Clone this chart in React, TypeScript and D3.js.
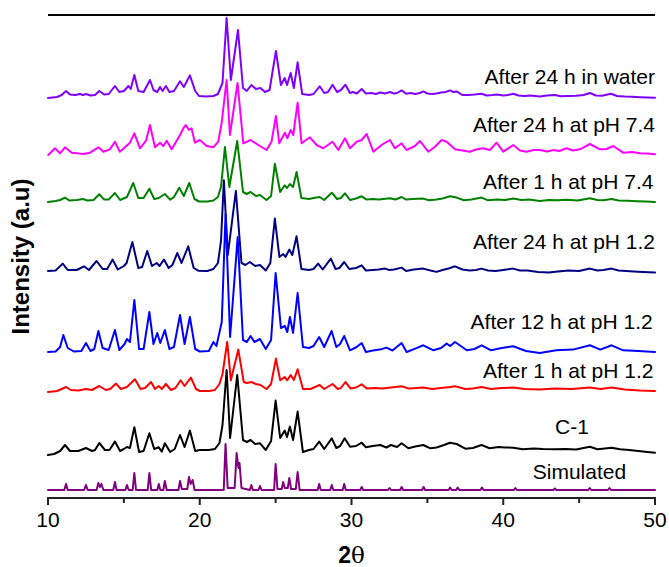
import React from "react";
import * as d3 from "d3";

// PXRD patterns, [2θ (deg), intensity (counts above the trace's own baseline)]
const waterSeries: [number, number][] = [
  [10.0, 0], [10.3, 5], [10.6, 10], [10.9, 30], [11.19, 70], [11.45, 35], [11.8, 30], [12.1, 40], [12.3, 30], [12.5, 40],
  [12.8, 25], [13.1, 30], [13.38, 70], [13.7, 35], [14.0, 40], [14.41, 120], [14.7, 60], [15.0, 70], [15.3, 120], [15.45, 90],
  [15.69, 230], [15.95, 70], [16.3, 60], [16.72, 180], [16.95, 80], [17.2, 60], [17.38, 110], [17.55, 70], [17.77, 120], [18.0, 60],
  [18.3, 70], [18.7, 167], [18.95, 110], [19.35, 226], [19.7, 70], [19.95, 20], [20.4, 15], [20.9, 20], [21.2, 40], [21.5, 150],
  [21.77, 800], [22.05, 180], [22.52, 680], [22.85, 100], [23.1, 70], [23.4, 130], [23.7, 90], [24.0, 100], [24.3, 60], [24.6, 80],
  [25.02, 470], [25.35, 130], [25.6, 200], [25.75, 130], [25.99, 250], [26.2, 100], [26.45, 357], [26.75, 40], [27.2, 30], [27.5, 40],
  [27.9, 117], [28.2, 50], [28.45, 60], [28.75, 133], [29.05, 60], [29.3, 80], [29.6, 133], [29.9, 50], [30.1, 60], [30.35, 45],
  [30.67, 90], [30.95, 45], [31.3, 50], [31.6, 40], [31.9, 55], [32.2, 45], [32.53, 60], [32.8, 45], [33.0, 50], [33.3, 76],
  [33.6, 43], [33.9, 50], [34.2, 40], [34.5, 50], [34.73, 66], [35.0, 45], [35.3, 40], [35.6, 45], [35.9, 55], [36.2, 60],
  [36.49, 76], [36.7, 60], [36.93, 66], [37.3, 30], [37.7, 30], [38.1, 35], [38.57, 43], [38.9, 25], [39.3, 30], [39.6, 35],
  [40.0, 25], [40.3, 30], [40.66, 43], [41.0, 25], [41.4, 20], [41.8, 25], [42.4, 16], [42.9, 25], [43.4, 30], [43.8, 18],
  [44.3, 20], [44.8, 22], [45.3, 30], [45.71, 50], [46.1, 25], [46.5, 22], [47.1, 43], [47.5, 20], [48.0, 15], [48.5, 12],
  [49.0, 8], [49.5, 5], [50.0, 3],
];

const ph74Day: [number, number][] = [
  [10.02, 0], [10.46, 67], [10.79, 17], [11.12, 77], [11.56, 23], [11.9, 17], [12.33, 10], [12.77, 23], [13.32, 77], [13.65, 33],
  [14.08, 56], [14.41, 133], [14.74, 33], [15.07, 77], [15.4, 123], [15.69, 217], [16.06, 67], [16.46, 143], [16.72, 300], [17.05, 77],
  [17.38, 123], [17.6, 90], [17.82, 143], [18.15, 57], [18.7, 200], [18.92, 267], [19.07, 300], [19.29, 250], [19.46, 267], [19.68, 123],
  [20.01, 150], [20.45, 90], [20.89, 77], [21.22, 133], [21.44, 317], [21.77, 750], [21.99, 200], [22.49, 720], [22.87, 117], [23.35, 150],
  [23.86, 100], [24.4, 50], [24.73, 133], [25.02, 390], [25.24, 117], [25.61, 223], [25.77, 167], [25.99, 250], [26.16, 200], [26.45, 523],
  [26.71, 117], [27.26, 177], [27.7, 100], [28.14, 67], [28.75, 133], [29.13, 50], [29.57, 167], [29.9, 67], [30.34, 133], [30.67, 150],
  [31.0, 210], [31.44, 33], [31.98, 100], [32.53, 150], [32.86, 67], [33.3, 117], [33.63, 50], [34.18, 90], [34.51, 140], [35.06, 33],
  [35.5, 83], [35.94, 150], [36.27, 133], [36.82, 57], [37.3, 45], [37.8, 33], [38.2, 55], [38.68, 67], [39.12, 50], [39.56, 123],
  [40.0, 33], [40.66, 100], [41.1, 45], [41.54, 33], [42.0, 50], [42.42, 50], [42.9, 35], [43.3, 50], [43.7, 40], [44.17, 67],
  [44.6, 45], [45.05, 57], [45.71, 110], [46.37, 57], [46.8, 60], [47.25, 90], [47.9, 23], [48.5, 30], [49.0, 17], [49.5, 15],
  [50.0, 7],
];

const ph74Hour: [number, number][] = [
  [10.0, 0], [10.5, 10], [10.8, 20], [11.12, 44], [11.4, 15], [11.9, 20], [12.3, 30], [12.6, 15], [13.0, 20], [13.38, 77],
  [13.7, 24], [14.0, 24], [14.41, 90], [14.75, 20], [15.2, 50], [15.62, 190], [15.95, 40], [16.3, 40], [16.68, 133], [17.0, 30],
  [17.3, 40], [17.7, 80], [18.05, 24], [18.3, 50], [18.65, 143], [18.95, 60], [19.31, 190], [19.65, 30], [19.95, 5], [20.5, 5],
  [20.9, 15], [21.2, 50], [21.4, 150], [21.66, 550], [21.95, 150], [22.47, 610], [22.85, 100], [23.1, 80], [23.35, 100], [23.7, 60],
  [23.97, 70], [24.4, 20], [24.7, 60], [24.95, 383], [25.3, 100], [25.6, 167], [25.75, 140], [25.94, 180], [26.15, 150], [26.38, 300],
  [26.7, 40], [27.2, 30], [27.5, 40], [27.9, 50], [28.2, 20], [28.7, 93], [29.05, 30], [29.3, 40], [29.57, 87], [29.9, 20],
  [30.3, 35], [30.67, 57], [31.0, 24], [31.4, 30], [31.8, 25], [32.53, 37], [32.9, 25], [33.3, 50], [33.6, 24], [34.0, 30],
  [34.73, 34], [35.1, 17], [35.6, 25], [36.0, 35], [36.49, 57], [36.93, 44], [37.4, 17], [37.9, 25], [38.57, 44], [39.0, 17],
  [39.6, 25], [40.1, 20], [40.66, 34], [41.2, 20], [41.7, 25], [42.4, 10], [43.0, 20], [43.6, 17], [44.2, 22], [44.9, 15],
  [45.71, 37], [46.2, 20], [46.6, 17], [47.14, 30], [47.6, 15], [48.2, 12], [48.8, 8], [49.4, 5], [50.0, 0],
];

const ph12Day: [number, number][] = [
  [10.0, 0], [10.5, 5], [10.97, 74], [11.3, 10], [11.9, 10], [12.37, 47], [12.7, 10], [13.2, 100], [13.6, 20], [13.9, 20],
  [14.26, 114], [14.6, 15], [15.0, 50], [15.18, 80], [15.56, 290], [15.95, 30], [16.2, 40], [16.54, 200], [16.85, 50], [17.16, 80],
  [17.35, 50], [17.64, 114], [17.95, 30], [18.2, 60], [18.52, 180], [18.8, 80], [19.24, 247], [19.6, 30], [19.9, 3], [20.5, 0],
  [20.9, 20], [21.2, 80], [21.4, 300], [21.59, 907], [21.85, 160], [22.38, 800], [22.75, 80], [23.0, 60], [23.3, 90], [23.65, 50],
  [23.97, 60], [24.35, 5], [24.65, 80], [24.95, 524], [25.25, 140], [25.5, 170], [25.65, 140], [25.9, 214], [26.1, 160], [26.38, 347],
  [26.7, 20], [27.2, 10], [27.5, 20], [27.8, 74], [28.1, 15], [28.64, 124], [28.95, 20], [29.2, 30], [29.52, 90], [29.85, 20],
  [30.3, 30], [30.67, 57], [30.95, 5], [31.4, 10], [31.8, 14], [32.2, 24], [32.5, 10], [32.8, 15], [33.3, 34], [33.6, 0],
  [34.1, 15], [34.73, 24], [35.2, 5], [35.6, -9], [36.0, 10], [36.4, 25], [36.82, 47], [37.3, 15], [37.8, 5], [38.2, 10],
  [38.57, 24], [39.0, 5], [39.5, 0], [40.0, 10], [40.66, 24], [41.1, 5], [41.6, 5], [42.3, -10], [43.0, -16], [43.6, -5],
  [44.3, 5], [45.0, 0], [45.71, 24], [46.2, 5], [46.6, 10], [47.14, 24], [47.6, 5], [48.1, 0], [48.6, -5], [49.2, -10],
  [50.0, -16],
];

const ph12HalfDay: [number, number][] = [
  [10.0, 0], [10.5, 5], [10.8, 50], [11.01, 170], [11.3, 40], [11.7, 5], [12.2, 10], [12.5, 90], [12.8, 10], [13.05, 30],
  [13.32, 210], [13.6, 40], [14.0, 20], [14.41, 220], [14.7, 20], [15.05, 80], [15.2, 130], [15.4, 100], [15.69, 520], [16.0, 30],
  [16.3, 30], [16.68, 400], [16.95, 80], [17.2, 190], [17.4, 90], [17.7, 220], [18.0, 30], [18.3, 50], [18.7, 370], [19.0, 80],
  [19.35, 350], [19.7, 30], [20.0, 5], [20.6, 10], [20.9, 100], [21.1, 60], [21.45, 300], [21.7, 1380], [22.0, 150], [22.5, 1150],
  [22.85, 120], [23.1, 100], [23.35, 160], [23.6, 100], [23.97, 130], [24.35, 30], [24.7, 120], [25.0, 790], [25.35, 240], [25.61, 260],
  [25.77, 200], [25.94, 350], [26.15, 190], [26.45, 590], [26.8, 50], [27.2, 40], [27.5, 60], [27.87, 150], [28.2, 50], [28.69, 210],
  [29.0, 50], [29.25, 80], [29.52, 160], [29.9, 17], [30.34, 50], [30.67, 90], [30.95, 0], [31.4, 15], [31.87, 24], [32.3, 44],
  [32.7, 15], [33.3, 90], [33.63, 0], [34.2, 34], [34.73, 67], [35.4, 17], [35.9, 40], [36.27, 84], [36.5, 60], [36.82, 100],
  [37.6, 17], [38.1, 30], [38.57, 67], [39.2, 17], [39.9, 40], [40.66, 57], [41.5, 10], [42.4, -10], [43.5, 17], [44.6, 24],
  [45.71, 67], [46.4, 24], [47.14, 67], [47.9, 17], [48.9, 10], [50.0, 0],
];

const ph12Hour: [number, number][] = [
  [10.0, 0], [10.6, 10], [11.19, 50], [11.5, 20], [12.0, 15], [12.5, 30], [12.9, 20], [13.38, 60], [13.8, 20], [14.1, 30],
  [14.48, 84], [14.8, 30], [15.2, 50], [15.73, 127], [16.1, 30], [16.4, 40], [16.79, 100], [17.05, 30], [17.3, 60], [17.5, 30],
  [17.77, 80], [18.1, 20], [18.4, 40], [18.74, 117], [19.0, 60], [19.42, 144], [19.75, 30], [20.0, 10], [20.6, 10], [21.0, 20],
  [21.3, 80], [21.5, 180], [21.81, 500], [22.05, 117], [22.54, 424], [22.9, 100], [23.1, 90], [23.4, 100], [23.7, 80], [24.0, 70],
  [24.4, 30], [24.7, 80], [25.02, 334], [25.3, 117], [25.6, 150], [25.77, 117], [25.99, 170], [26.2, 120], [26.45, 227], [26.8, 30],
  [27.3, 30], [27.9, 70], [28.2, 30], [28.75, 80], [29.1, 30], [29.3, 40], [29.6, 100], [29.95, 34], [30.3, 45], [30.67, 77],
  [31.0, 34], [31.5, 40], [32.0, 35], [32.6, 45], [33.3, 57], [33.8, 34], [34.3, 40], [34.73, 44], [35.3, 30], [35.9, 40],
  [36.5, 50], [36.82, 57], [37.5, 30], [38.0, 35], [38.57, 50], [39.2, 30], [39.9, 40], [40.66, 44], [41.4, 30], [42.4, 24],
  [43.4, 35], [44.5, 30], [45.71, 44], [46.4, 30], [47.14, 44], [48.0, 25], [49.0, 15], [50.0, 10],
];

const c1Series: [number, number][] = [
  [10.0, 0], [10.4, 10], [10.8, 40], [11.12, 100], [11.45, 40], [12.0, 40], [12.5, 70], [12.9, 40], [13.1, 50], [13.38, 120],
  [13.75, 50], [14.05, 50], [14.41, 134], [14.75, 40], [15.0, 60], [15.2, 80], [15.4, 70], [15.69, 277], [16.0, 30], [16.3, 40],
  [16.68, 217], [17.0, 60], [17.3, 77], [17.5, 34], [17.7, 117], [18.05, 30], [18.35, 60], [18.7, 200], [19.0, 80], [19.35, 244],
  [19.7, 40], [20.0, 50], [20.6, 50], [21.0, 60], [21.3, 120], [21.5, 300], [21.77, 850], [22.0, 170], [22.47, 800], [22.85, 150],
  [23.1, 130], [23.35, 150], [23.65, 110], [23.97, 117], [24.35, 50], [24.7, 140], [25.0, 544], [25.3, 170], [25.6, 244], [25.75, 180],
  [25.94, 284], [26.15, 150], [26.45, 434], [26.8, 30], [27.2, 50], [27.5, 60], [27.87, 134], [28.2, 60], [28.7, 167], [29.0, 70],
  [29.25, 90], [29.55, 167], [29.9, 83], [30.3, 90], [30.67, 123], [30.95, 77], [31.4, 90], [31.9, 100], [32.3, 75], [32.6, 100],
  [33.0, 80], [33.3, 117], [33.75, 67], [34.2, 85], [34.73, 100], [35.2, 67], [35.6, 75], [36.1, 100], [36.49, 123], [36.93, 110],
  [37.5, 63], [38.0, 70], [38.57, 100], [39.1, 67], [39.7, 80], [40.1, 75], [40.66, 73], [41.3, 57], [42.0, 65], [42.6, 60],
  [43.4, 57], [44.1, 60], [44.8, 55], [45.71, 83], [46.2, 57], [46.7, 65], [47.14, 73], [47.7, 57], [48.3, 50], [48.9, 40],
  [49.5, 30], [50.0, 23],
];

const simulatedSeries: [number, number][] = [
  [10.0, 0], [11.07, 0], [11.19, 60], [11.3, 0], [12.38, 0], [12.5, 50], [12.62, 0], [13.2, 0], [13.32, 70], [13.42, 30],
  [13.52, 60], [13.65, 0], [14.3, 0], [14.41, 80], [14.52, 0], [15.1, 0], [15.2, 50], [15.32, 0], [15.58, 0], [15.69, 170],
  [15.8, 0], [16.57, 0], [16.68, 170], [16.8, 0], [17.2, 0], [17.3, 60], [17.4, 0], [17.6, 0], [17.7, 90], [17.82, 0],
  [18.6, 0], [18.7, 90], [18.82, 10], [19.18, 10], [19.29, 130], [19.4, 60], [19.53, 100], [19.66, 0], [21.58, 0], [21.7, 460],
  [21.84, 20], [22.3, 20], [22.43, 370], [22.55, 220], [22.62, 270], [22.75, 20], [23.3, 0], [23.4, 50], [23.5, 0], [23.87, 0],
  [23.97, 40], [24.07, 0], [24.9, 0], [25.0, 260], [25.12, 10], [25.4, 10], [25.5, 80], [25.6, 20], [25.8, 20], [25.9, 120],
  [26.02, 10], [26.33, 10], [26.45, 180], [26.58, 0], [27.77, 0], [27.87, 60], [27.97, 0], [28.6, 0], [28.7, 50], [28.8, 0],
  [29.42, 0], [29.52, 60], [29.62, 0], [30.57, 0], [30.67, 30], [30.77, 0], [32.4, 0], [32.5, 20], [32.6, 0], [33.2, 0],
  [33.3, 30], [33.4, 0], [34.65, 0], [34.75, 30], [34.85, 0], [36.4, 0], [36.5, 25], [36.6, 0], [36.9, 0], [37.0, 25],
  [37.1, 0], [38.5, 0], [38.6, 25], [38.7, 0], [40.7, 0], [40.8, 20], [40.9, 0], [43.3, 0], [43.4, 15], [43.5, 0],
  [45.6, 0], [45.7, 20], [45.8, 0], [46.9, 0], [47.0, 20], [47.1, 0], [50.0, 0],
];

// Traces drawn top to bottom, each lifted by a stacking offset (counts)
const seriesNames = [
  "After 24 h in water",
  "After 24 h at pH 7.4",
  "After 1 h at pH 7.4",
  "After 24 h at pH 1.2",
  "After 12 h at pH 1.2",
  "After 1 h at pH 1.2",
  "C-1",
  "Simulated",
];
const seriesData = [waterSeries, ph74Day, ph74Hour, ph12Day, ph12HalfDay, ph12Hour, c1Series, simulatedSeries];
const seriesOffsets = [4000, 3430, 2960, 2270, 1460, 1060, 430, 80];

const xTicks = [10, 20, 30, 40, 50];
const xMinorTicks = [15, 25, 35, 45];

// Presentation
const seriesColors = ["#8000FF", "#FF00FF", "#008000", "#000080", "#0000FF", "#FF0000", "#000000", "#800080"];
const labelTheta = [50, 50, 49.9, 50, 49.85, 49.9, 44.53, 48.1];
const labelAnchor = ["end", "end", "end", "end", "end", "end", "middle", "end"];
const labelLift = [140, 230, 134, 224, 234, 144, 210, 107];

const W = 669;
const H = 567;
const FONT = "'Liberation Sans', Arial, Helvetica, sans-serif";

export default function App() {
  const x = d3.scaleLinear().domain([10, 50]).range([48, 655]);
  const y = d3.scaleLinear().domain([0, 4830]).range([498, 15]);

  return (
    <svg
      width={W}
      height={H}
      viewBox={`0 0 ${W} ${H}`}
      style={{ position: "absolute", left: 0, top: 0, background: "#fff" }}
      fontFamily={FONT}
    >
      <rect x={0} y={0} width={W} height={H} fill="#fff" />

      {seriesData.map((pts, i) => {
        const line = d3
          .line<[number, number]>()
          .x((d) => x(d[0]))
          .y((d) => y(d[1] + seriesOffsets[i]));
        return (
          <path
            key={seriesNames[i]}
            d={line(pts) ?? ""}
            fill="none"
            stroke={seriesColors[i]}
            strokeWidth={2}
            strokeLinejoin="round"
            strokeLinecap="round"
          />
        );
      })}

      {seriesNames.map((name, i) => (
        <text
          key={name}
          x={x(labelTheta[i])}
          y={y(seriesOffsets[i] + labelLift[i])}
          textAnchor={labelAnchor[i] as any}
          fontSize={21}
          fill="#000"
        >
          {name}
        </text>
      ))}

      {/* top frame line */}
      <line x1={x(10)} x2={x(50)} y1={y(4830)} y2={y(4830)} stroke="#000" strokeWidth={2.2} />

      {/* bottom axis */}
      <line x1={x(10) - 1} x2={x(50) + 1} y1={y(0)} y2={y(0)} stroke="#222" strokeWidth={2} />
      {xTicks.map((t) => (
        <g key={`t${t}`}>
          <line x1={x(t)} x2={x(t)} y1={y(0)} y2={y(0) + 7} stroke="#222" strokeWidth={2} />
          <text x={x(t)} y={527} textAnchor="middle" fontSize={21} fill="#000">
            {t}
          </text>
        </g>
      ))}
      {xMinorTicks.map((t) => (
        <line key={`m${t}`} x1={x(t)} x2={x(t)} y1={y(0)} y2={y(0) + 5} stroke="#222" strokeWidth={2} />
      ))}

      <text x={(x(10) + x(50)) / 2} y={563} textAnchor="middle" fontSize={23} fill="#000">
        <tspan fontWeight="bold">2</tspan>
        <tspan fontFamily="'DejaVu Serif', 'Liberation Serif', serif">θ</tspan>
      </text>

      <text
        transform={`translate(29, ${(y(0) + y(4830)) / 2}) rotate(-90)`}
        textAnchor="middle"
        fontSize={24}
        fontWeight="bold"
        fill="#000"
      >
        Intensity (a.u)
      </text>
    </svg>
  );
}
